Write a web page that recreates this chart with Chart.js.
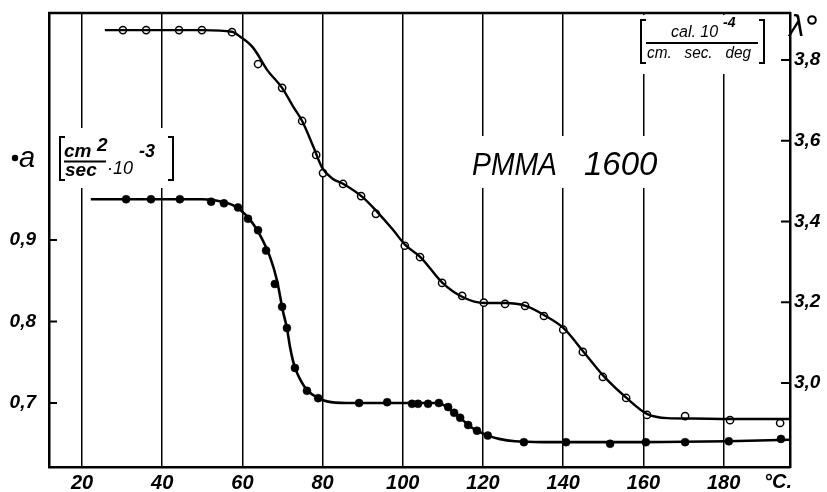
<!DOCTYPE html>
<html>
<head>
<meta charset="utf-8">
<script src="https://cdn.jsdelivr.net/npm/chart.js@4"></script>
<style>
  html, body { margin: 0; padding: 0; background: #fff; }
  canvas { display: block; }
</style>
</head>
<body>
<canvas id="chart" width="827" height="492"></canvas>
<script>
// PMMA 1600: thermal diffusivity a (filled) and conductivity lambda (open) vs temperature

const xTicks = [20, 40, 60, 80, 100, 120, 140, 160, 180];
const aTicks = [0.7, 0.8, 0.9];
const lambdaTicks = [3.0, 3.2, 3.4, 3.6, 3.8];

// measured points, a [cm2/sec * 10^-3]
const tempA = [31.0, 37.2, 44.4, 52.2, 55.4, 58.9, 61.4, 63.9, 65.9, 68.1, 69.9, 71.1, 73.1, 76.1, 78.9,
  89.1, 96.1, 102.3, 103.8, 106.3, 109.0, 111.3, 112.8, 114.3, 116.3, 118.5, 121.2,
  130.2, 140.7, 151.7, 160.6, 170.4, 181.3, 194.3];
const diffusivity = [0.950, 0.950, 0.950, 0.947, 0.945, 0.940, 0.926, 0.912, 0.887, 0.846, 0.818, 0.792, 0.743, 0.715, 0.706,
  0.700, 0.701, 0.699, 0.699, 0.699, 0.700, 0.695, 0.688, 0.682, 0.673, 0.666, 0.660,
  0.652, 0.652, 0.650, 0.652, 0.652, 0.653, 0.656];

// fitted curve for a
const aCurveT = [22.2, 50, 55, 57.5, 59.4, 61.9, 64.4, 66.9, 68.6, 70.1, 71.1, 71.9, 72.6, 73.3, 74.4, 76.1, 78.9, 81.1, 86,
  108, 110, 112, 114.3, 116.3, 118.5, 121.2, 124, 128, 135, 160, 181, 196.5];
const aCurveV = [0.950, 0.950, 0.947, 0.943, 0.937, 0.925, 0.906, 0.879, 0.851, 0.813, 0.792, 0.768, 0.752, 0.741, 0.729, 0.716, 0.706, 0.702, 0.700,
  0.700, 0.698, 0.691, 0.682, 0.673, 0.666, 0.660, 0.656, 0.653, 0.652, 0.652, 0.653, 0.655];

// measured points, lambda [cal 10^-4 / cm sec deg]
const tempL = [30.2, 36.0, 44.2, 49.9, 57.4, 63.9, 69.9, 74.9, 78.4, 80.1, 85.1, 89.6, 93.3, 100.5, 104.3, 109.8,
  114.8, 120.2, 125.5, 130.5, 135.2, 140.0, 144.9, 149.9, 155.7, 160.9, 170.4, 181.6, 194.1];
const conductivity = [3.874, 3.874, 3.874, 3.874, 3.869, 3.790, 3.731, 3.649, 3.565, 3.520, 3.493, 3.463, 3.419, 3.340, 3.312, 3.248,
  3.216, 3.199, 3.196, 3.191, 3.166, 3.132, 3.077, 3.015, 2.963, 2.921, 2.918, 2.908, 2.901];

// fitted curve for lambda
const lamCurveT = [25.7, 50.2, 57.4, 59.4, 62.7, 66.2, 69.9, 72.7, 74.9, 77.7, 79.9, 82.5, 85.2, 89.9, 93.6, 97.6, 100.6,
  104.4, 109.9, 114.9, 120.4, 125.6, 130.6, 135.3, 140.1, 145.1, 150.1, 155.8, 161.0, 166.0, 172, 182, 196.5];
const lamCurveV = [3.874, 3.874, 3.870, 3.858, 3.830, 3.775, 3.731, 3.684, 3.649, 3.585, 3.533, 3.506, 3.493, 3.461, 3.424, 3.379, 3.342,
  3.312, 3.248, 3.213, 3.198, 3.198, 3.191, 3.168, 3.136, 3.077, 3.017, 2.963, 2.923, 2.913, 2.912, 2.911, 2.911];

const pts = (xs, ys) => xs.map((x, i) => ({ x, y: ys[i] }));
const tickFont = { family: 'Liberation Sans', style: 'italic', weight: 'bold', size: 19 };
const comma = v => v.toFixed(1).replace('.', ',');

// fixed scale sizes, and no extra room for the end labels
function fitTo(size) {
  return s => {
    if (s.isHorizontal()) s.height = size; else s.width = size;
    s.paddingTop = s.paddingBottom = s.paddingLeft = s.paddingRight = 0;
  };
}

function line(ctx, x1, y1, x2, y2) {
  ctx.beginPath();
  ctx.moveTo(x1, y1);
  ctx.lineTo(x2, y2);
  ctx.stroke();
}

function bracket(ctx, x, y1, y2, dir) {
  ctx.beginPath();
  ctx.moveTo(x + dir * 5, y1);
  ctx.lineTo(x, y1);
  ctx.lineTo(x, y2);
  ctx.lineTo(x + dir * 5, y2);
  ctx.stroke();
}

const frame = {
  id: 'frame',
  beforeDatasetsDraw(chart) {
    const { ctx, chartArea: ca, scales } = chart;
    ctx.save();
    // grid lines are broken behind the labels
    ctx.fillStyle = '#fff';
    ctx.fillRect(ca.left + 2, 128, 130, 60);
    ctx.fillRect(470, 136, 195, 52);
    ctx.fillRect(630, ca.top + 2, 140, 72 - ca.top);
    ctx.strokeStyle = '#000';
    ctx.lineWidth = 2.5;
    line(ctx, ca.left - 1, ca.top, ca.right + 1, ca.top);
    ctx.lineWidth = 2;
    aTicks.forEach(v => {
      const y = scales.yA.getPixelForValue(v);
      line(ctx, ca.left, y, ca.left + 8, y);
    });
    lambdaTicks.forEach(v => {
      const y = scales.yL.getPixelForValue(v);
      line(ctx, ca.right - 9, y, ca.right, y);
    });
    ctx.restore();
  },
  afterDraw(chart) {
    const { ctx } = chart;
    ctx.save();
    ctx.fillStyle = '#000';
    ctx.strokeStyle = '#000';
    ctx.textBaseline = 'alphabetic';
    ctx.textAlign = 'left';

    // left quantity label
    ctx.beginPath();
    ctx.arc(15, 158, 3.2, 0, Math.PI * 2);
    ctx.fill();
    ctx.font = 'italic 29px "Liberation Sans"';
    ctx.fillText('a', 19, 167);
    ctx.lineWidth = 2;
    bracket(ctx, 60, 137, 180, 1);
    bracket(ctx, 173, 137, 180, -1);
    ctx.font = 'italic bold 19px "Liberation Sans"';
    ctx.fillText('cm', 64, 157);
    ctx.fillText('sec', 65, 176);
    ctx.fillText('2', 97, 151);
    ctx.lineWidth = 1.8;
    line(ctx, 64, 161.5, 106, 161.5);
    ctx.font = 'italic 18px "Liberation Sans"';
    ctx.fillText('\u00b710', 107, 174);
    ctx.font = 'italic bold 18px "Liberation Sans"';
    ctx.fillText('-3', 139, 157);

    // right quantity label
    ctx.font = 'italic 28px "DejaVu Sans"';
    ctx.fillText('\u03bb', 789, 36);
    ctx.lineWidth = 2;
    ctx.beginPath();
    ctx.arc(812, 20, 3.8, 0, Math.PI * 2);
    ctx.stroke();
    bracket(ctx, 641, 20, 63, 1);
    bracket(ctx, 764, 20, 63, -1);
    ctx.font = 'italic 16px "Liberation Sans"';
    ctx.fillText('cal. 10', 671, 37);
    ctx.fillText('cm.   sec.   deg', 647, 58, 104);
    ctx.font = 'italic bold 14px "Liberation Sans"';
    ctx.fillText('-4', 723, 27);
    ctx.lineWidth = 1.8;
    line(ctx, 646, 43, 758, 43);

    // title
    ctx.font = 'italic 32px "Liberation Sans"';
    ctx.fillText('PMMA', 472, 175, 85);
    ctx.font = 'italic 33px "Liberation Sans"';
    ctx.fillText('1600', 584, 175);

    // unit of x axis
    ctx.font = 'italic bold 20px "Liberation Sans"';
    ctx.fillText('\u00b0C.', 764, 488);
    ctx.restore();
  }
};

new Chart(document.getElementById('chart'), {
  type: 'scatter',
  data: {
    datasets: [
      {
        label: 'a curve',
        data: pts(aCurveT, aCurveV),
        yAxisID: 'yA',
        showLine: true,
        borderColor: '#000',
        borderWidth: 2.6,
        pointRadius: 0,
        cubicInterpolationMode: 'monotone'
      },
      {
        label: 'a',
        data: pts(tempA, diffusivity),
        yAxisID: 'yA',
        pointRadius: 4,
        pointBackgroundColor: '#000',
        pointBorderColor: '#000',
        pointBorderWidth: 0.5
      },
      {
        label: 'lambda curve',
        data: pts(lamCurveT, lamCurveV),
        yAxisID: 'yL',
        showLine: true,
        borderColor: '#000',
        borderWidth: 2.4,
        pointRadius: 0,
        cubicInterpolationMode: 'monotone'
      },
      {
        label: 'lambda',
        data: pts(tempL, conductivity),
        yAxisID: 'yL',
        pointRadius: 3.6,
        pointBackgroundColor: '#fff',
        pointBorderColor: '#000',
        pointBorderWidth: 1.5
      }
    ]
  },
  options: {
    responsive: false,
    animation: false,
    layout: { padding: { top: 13, left: 0, right: 0, bottom: 0 } },
    plugins: {
      legend: { display: false },
      tooltip: { enabled: false }
    },
    scales: {
      x: {
        type: 'linear',
        position: 'bottom',
        min: 11.77,
        max: 196.56,
        afterBuildTicks: s => { s.ticks = xTicks.map(v => ({ value: v })); },
        afterFit: fitTo(25),
        grid: { color: '#000', lineWidth: 1.5, drawTicks: false },
        border: { color: '#000', width: 2.5 },
        ticks: { color: '#000', font: { ...tickFont, size: 20 }, padding: 4, maxRotation: 0 }
      },
      yA: {
        type: 'linear',
        position: 'left',
        min: 0.6215,
        max: 1.1785,
        afterBuildTicks: s => { s.ticks = aTicks.map(v => ({ value: v })); },
        afterFit: fitTo(49),
        grid: { display: false, drawTicks: false },
        border: { color: '#000', width: 2.5 },
        ticks: { color: '#000', font: tickFont, padding: 13, callback: comma }
      },
      yL: {
        type: 'linear',
        position: 'right',
        min: 2.792,
        max: 3.9164,
        afterBuildTicks: s => { s.ticks = lambdaTicks.map(v => ({ value: v })); },
        afterFit: fitTo(37),
        grid: { display: false, drawTicks: false },
        border: { color: '#000', width: 2.5 },
        ticks: { color: '#000', font: tickFont, padding: 4, callback: comma }
      }
    }
  },
  plugins: [frame]
});
</script>
</body>
</html>
